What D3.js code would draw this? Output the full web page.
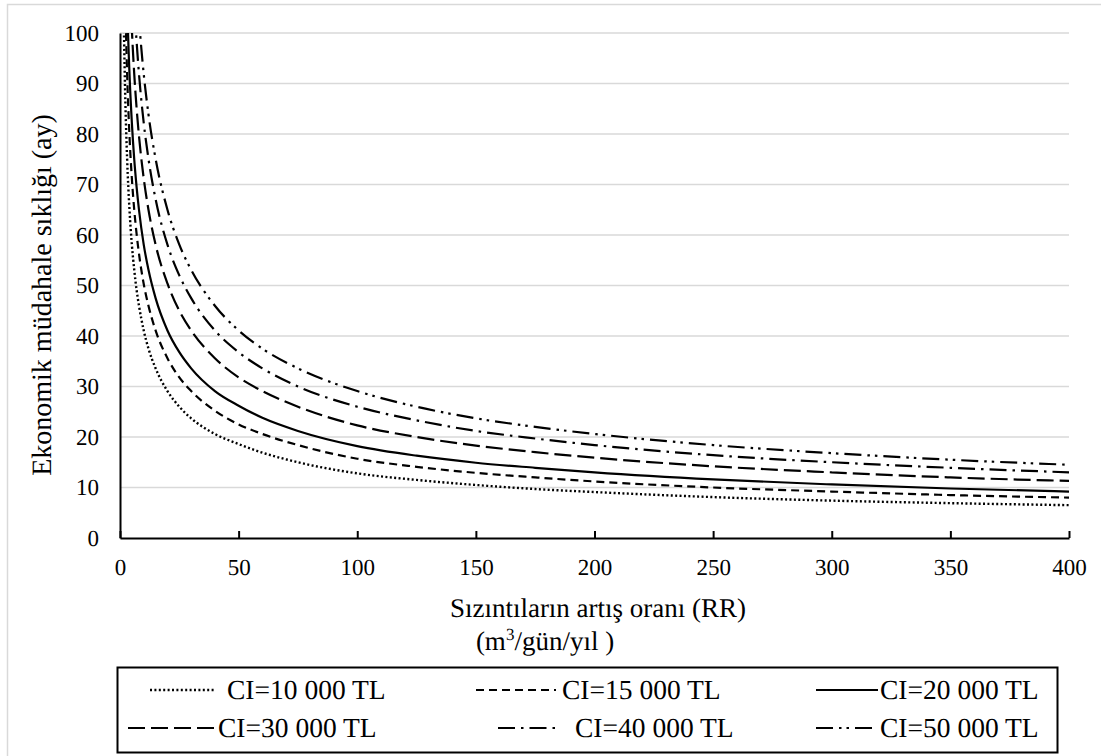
<!DOCTYPE html>
<html>
<head>
<meta charset="utf-8">
<script src="https://cdn.jsdelivr.net/npm/d3@7"></script>
<style>
  html, body { margin: 0; padding: 0; background: #fff; }
  svg { display: block; text-rendering: geometricPrecision; }
  svg text { font-family: 'Liberation Serif', 'Tinos', 'Times New Roman', 'DejaVu Serif', serif !important; fill: #000; }
</style>
</head>
<body>
<svg id="chart" width="1101" height="756"></svg>
<script>
// Leak growth rate RR (m³/gün/yıl) sample points
const rr = [1, 1.5, 2, 2.5, 3, 4, 5, 6, 7, 8, 10, 12, 15, 20, 25, 30, 40, 50, 60, 75, 100, 125, 150, 175, 200, 250, 300, 350, 400];

// Economic intervention interval (months) for each intervention cost CI
const ci10000 = [130, 106.1, 91.9, 82.2, 75.1, 65, 58.1, 53.1, 49.1, 46.0, 41.1, 37.5, 33.6, 29.1, 26.0, 23.7, 20.6, 18.6, 16.9, 15.0, 12.8, 11.5, 10.5, 9.7, 9.1, 8.1, 7.4, 6.9, 6.5];
const ci15000 = [159.2, 130, 112.6, 100.7, 91.9, 79.6, 71.2, 65, 60.2, 56.3, 50.3, 46.0, 41.1, 35.6, 31.8, 29.1, 25.2, 22.5, 20.6, 18.4, 15.7, 14.1, 12.9, 12.0, 11.2, 10.0, 9.2, 8.5, 8.0];
const ci20000 = [183.8, 150.1, 130, 116.3, 106.1, 91.9, 82.2, 75.0, 69.5, 65.0, 58.1, 53.1, 47.5, 41.1, 36.8, 33.6, 29.1, 26.2, 23.8, 21.2, 18.2, 16.3, 14.9, 13.9, 13.0, 11.6, 10.6, 9.8, 9.2];
const ci30000 = [225.2, 183.9, 159.2, 142.4, 130, 112.6, 100.7, 91.9, 85.1, 79.6, 71.2, 65.0, 58.1, 50.4, 45.0, 41.1, 35.6, 31.8, 29.1, 26.0, 22.3, 20.0, 18.3, 17.0, 15.9, 14.2, 13.0, 12.0, 11.3];
const ci40000 = [260, 212.3, 183.8, 164.4, 150.1, 130, 116.3, 106.1, 98.3, 91.9, 82.2, 75.1, 67.1, 58.1, 52.0, 47.5, 41.1, 36.8, 33.6, 30.0, 26.0, 23.3, 21.2, 19.7, 18.4, 16.4, 15.0, 13.9, 13.0];
const ci50000 = [290.7, 237.4, 205.6, 183.9, 167.8, 145.4, 130, 118.7, 109.9, 102.8, 91.9, 83.9, 75.1, 65.0, 58.1, 53.1, 46.0, 41.1, 37.5, 33.6, 29.1, 26.0, 23.7, 22.0, 20.6, 18.4, 16.8, 15.5, 14.5];

const seriesNames = ["CI=10 000 TL", "CI=15 000 TL", "CI=20 000 TL", "CI=30 000 TL", "CI=40 000 TL", "CI=50 000 TL"];
const seriesValues = [ci10000, ci15000, ci20000, ci30000, ci40000, ci50000];

const xTicks = [0, 50, 100, 150, 200, 250, 300, 350, 400];
const yTicks = [0, 10, 20, 30, 40, 50, 60, 70, 80, 90, 100];

// Line styles per series
const dashes = ["2,2.4", "8,5", null, "17,6", "17,6,2.5,6", "17,6,2.5,5,2.5,6"];
const widths = [2.4, 2.2, 2.2, 2.2, 2.2, 2.2];

const FONT = "'Liberation Serif', 'Tinos', 'Times New Roman', 'DejaVu Serif', serif";

const svg = d3.select("#chart").attr("font-family", FONT);

// Outer chart-area frame
svg.append("rect")
  .attr("x", 7.5).attr("y", 4.5)
  .attr("width", 1110).attr("height", 770)
  .attr("fill", "none").attr("stroke", "#d9d9d9").attr("stroke-width", 1.5);

const plot = { left: 120, right: 1069, top: 33, bottom: 538 };

const x = d3.scaleLinear().domain([0, 400]).range([plot.left, plot.right]);
const y = d3.scaleLinear().domain([0, 100]).range([plot.bottom, plot.top]);

// Horizontal gridlines
svg.append("g")
  .selectAll("line")
  .data(yTicks.filter(d => d > 0))
  .join("line")
  .attr("x1", plot.left).attr("x2", plot.right)
  .attr("y1", d => y(d)).attr("y2", d => y(d))
  .attr("stroke", "#d9d9d9").attr("stroke-width", 1.5);

// Clip curves to the plotting area
svg.append("defs").append("clipPath").attr("id", "plotClip")
  .append("rect")
  .attr("x", plot.left).attr("y", plot.top)
  .attr("width", plot.right - plot.left).attr("height", plot.bottom - plot.top);

const line = d3.line()
  .x((d, i) => x(rr[i]))
  .y(d => y(d))
  .curve(d3.curveMonotoneX);

svg.append("g").attr("clip-path", "url(#plotClip)")
  .selectAll("path")
  .data(seriesValues)
  .join("path")
  .attr("d", d => line(d))
  .attr("fill", "none")
  .attr("stroke", "#000")
  .attr("stroke-width", (d, i) => widths[i])
  .attr("stroke-dasharray", (d, i) => dashes[i]);

// X axis: tick marks point up into the plot
const xAxis = d3.axisBottom(x).tickValues(xTicks).tickSize(-7).tickSizeOuter(0).tickPadding(21);
const gx = svg.append("g").attr("transform", `translate(0,${plot.bottom})`).call(xAxis)
  .attr("font-family", FONT).attr("font-size", 23);
gx.select(".domain").attr("stroke", "#000").attr("stroke-width", 2);
gx.selectAll(".tick line").attr("stroke", "#000").attr("stroke-width", 2);

// Y axis
const yAxis = d3.axisLeft(y).tickValues(yTicks).tickSize(0).tickPadding(21);
const gy = svg.append("g").attr("transform", `translate(${plot.left},0)`).call(yAxis)
  .attr("font-family", FONT).attr("font-size", 23);
gy.select(".domain").attr("stroke", "#000").attr("stroke-width", 2);

// Axis titles
svg.append("text")
  .attr("transform", "translate(51,295) rotate(-90)")
  .attr("text-anchor", "middle")
  .attr("font-size", 28)
  .text("Ekonomik müdahale sıklığı (ay)");

svg.append("text")
  .attr("x", 598).attr("y", 617)
  .attr("text-anchor", "middle")
  .attr("font-size", 27)
  .text("Sızıntıların artış oranı (RR)");

const unit = svg.append("text")
  .attr("x", 545).attr("y", 650)
  .attr("text-anchor", "middle")
  .attr("font-size", 27);
unit.append("tspan").text("(m");
unit.append("tspan").attr("dy", -10).attr("font-size", 17).text("3");
unit.append("tspan").attr("dy", 10).text("/gün/yıl )");

// Legend
const legend = { x: 117.5, y: 667.5, w: 940, h: 85 };
svg.append("rect")
  .attr("x", legend.x).attr("y", legend.y)
  .attr("width", legend.w).attr("height", legend.h)
  .attr("fill", "#fff").attr("stroke", "#000").attr("stroke-width", 2);

const sampleRow1 = [[150, 216], [476, 556], [816, 878]];
const sampleRow2 = [[128, 214], [498, 556], [816, 878]];
const textRow1 = [227, 562, 880];
const textRow2 = [218, 575, 880];
const rowY = [690, 728];

const items = svg.append("g").selectAll("g")
  .data(seriesNames)
  .join("g");

items.append("line")
  .attr("x1", (d, i) => (i < 3 ? sampleRow1 : sampleRow2)[i % 3][0])
  .attr("x2", (d, i) => (i < 3 ? sampleRow1 : sampleRow2)[i % 3][1])
  .attr("y1", (d, i) => rowY[Math.floor(i / 3)])
  .attr("y2", (d, i) => rowY[Math.floor(i / 3)])
  .attr("stroke", "#000")
  .attr("stroke-width", (d, i) => widths[i])
  .attr("stroke-dasharray", (d, i) => dashes[i]);

items.append("text")
  .attr("x", (d, i) => (i < 3 ? textRow1 : textRow2)[i % 3])
  .attr("y", (d, i) => rowY[Math.floor(i / 3)] + 9)
  .attr("font-size", 27.5)
  .text(d => d);
</script>
</body>
</html>
